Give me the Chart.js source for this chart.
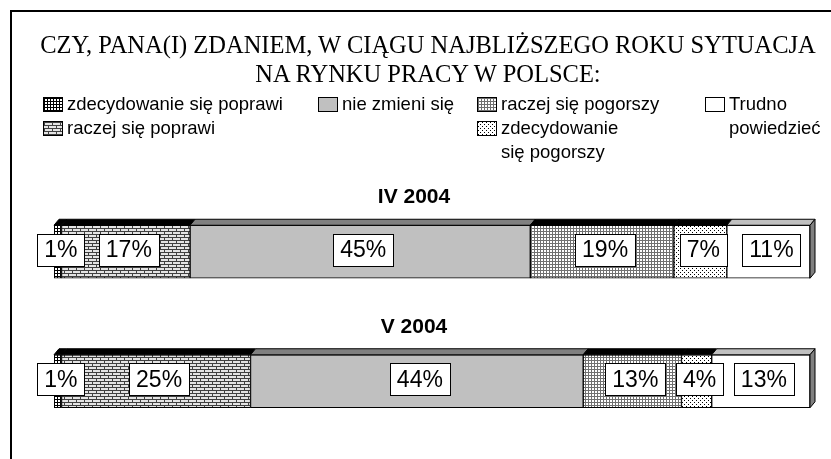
<!DOCTYPE html>
<html lang="pl">

<head>
    <meta charset="UTF-8" />
    <title>Sytuacja na rynku pracy</title>
    <script src="https://cdn.jsdelivr.net/npm/chart.js"></script>
    <style>
        body { margin: 0; background: #fff; }
        #wrap { position: relative; width: 831px; height: 459px; overflow: hidden; }
        #frame { position: absolute; left: 10px; top: 10px; width: 900px; height: 500px;
                 border-top: 2px solid #000; border-left: 2px solid #000; }
        #title { position: absolute; left: 0; width: 856px; top: 30px; text-align: center;
                 font-family: "Liberation Serif", serif; font-size: 24.5px; line-height: 29px; color: #000; }
        .item { position: absolute; font-family: "Liberation Sans", Arial, sans-serif;
                font-size: 18.5px; line-height: 24px; color: #000; }
        .sw { position: absolute; width: 18px; height: 13px; border: 1px solid #000; }
    </style>
</head>

<body>
    <div id="wrap">
        <canvas id="chart" width="831" height="459"></canvas>
        <div id="frame"></div>
        <div id="title">CZY, PANA(I) ZDANIEM, W CIĄGU NAJBLIŻSZEGO ROKU SYTUACJA<br>NA RYNKU PRACY W POLSCE:</div>
        <div id="legend"></div>
    </div>

    <script>
        // data
        var periods = ['IV 2004', 'V 2004'];
        var answers = ['zdecydowanie się poprawi', 'raczej się poprawi', 'nie zmieni się',
            'raczej się pogorszy', 'zdecydowanie się pogorszy', 'Trudno powiedzieć'];
        var zdecPoprawi = [1, 1];
        var raczejPoprawi = [17, 25];
        var nieZmieni = [45, 44];
        var raczejPogorszy = [19, 13];
        var zdecPogorszy = [7, 4];
        var trudno = [11, 13];
        var series = [zdecPoprawi, raczejPoprawi, nieZmieni, raczejPogorszy, zdecPogorszy, trudno];

        // legend layout: swatch left, row, html text
        var legendPos = [
            [43, 0, 'zdecydowanie się poprawi'],
            [43, 1, 'raczej się poprawi'],
            [318, 0, 'nie zmieni się'],
            [477, 0, 'raczej się pogorszy'],
            [477, 1, 'zdecydowanie<br>się pogorszy'],
            [705, 0, 'Trudno<br>powiedzieć']
        ];

        function tile(w, h, draw) {
            var c = document.createElement('canvas');
            c.width = w; c.height = h;
            var g = c.getContext('2d');
            g.fillStyle = '#fff';
            g.fillRect(0, 0, w, h);
            draw(g);
            return c;
        }

        var tiles = [
            tile(3, 3, function (g) {
                g.fillStyle = '#000';
                g.fillRect(0, 0, 3, 1);
                g.fillRect(0, 0, 1, 3);
            }),
            tile(8, 6, function (g) {
                g.fillStyle = '#e4e4e4';
                g.fillRect(0, 0, 8, 6);
                g.fillStyle = '#404040';
                g.fillRect(0, 0, 8, 1);
                g.fillRect(0, 3, 8, 1);
                g.fillRect(0, 1, 1, 2);
                g.fillRect(4, 4, 1, 2);
            }),
            tile(1, 1, function (g) {
                g.fillStyle = '#c0c0c0';
                g.fillRect(0, 0, 1, 1);
            }),
            tile(3, 3, function (g) {
                g.fillStyle = '#707070';
                g.fillRect(0, 0, 3, 1);
                g.fillRect(0, 0, 1, 3);
            }),
            tile(4, 4, function (g) {
                g.fillStyle = '#000';
                g.fillRect(0, 0, 1, 1);
                g.fillRect(2, 2, 1, 1);
            }),
            tile(1, 1, function (g) {})
        ];
        var topColors = ['#000', '#000', '#808080', '#000', '#000', '#c0c0c0'];

        // legend
        var legend = document.getElementById('legend');
        legendPos.forEach(function (p, i) {
            var sw = document.createElement('div');
            sw.className = 'sw';
            sw.style.left = p[0] + 'px';
            sw.style.top = (97 + p[1] * 24) + 'px';
            sw.style.backgroundImage = 'url(' + tiles[i].toDataURL() + ')';
            legend.appendChild(sw);
            var t = document.createElement('div');
            t.className = 'item';
            t.style.left = (p[0] + 24) + 'px';
            t.style.top = (92 + p[1] * 24) + 'px';
            t.innerHTML = p[2];
            legend.appendChild(t);
        });

        var ctx = document.getElementById('chart').getContext('2d');
        var patterns = tiles.map(function (c) { return ctx.createPattern(c, 'repeat'); });

        var DX = 5, DY = 6;
        var bar3d = {
            id: 'bar3d',
            afterDatasetsDraw: function (chart) {
                var g = chart.ctx;
                var n = chart.data.datasets.length;
                g.save();
                g.lineWidth = 1;
                g.strokeStyle = '#000';
                // top faces and right end
                for (var d = 0; d < n; d++) {
                    chart.getDatasetMeta(d).data.forEach(function (el) {
                        var x0 = el.base, x1 = el.x, t = el.y - el.height / 2, b = el.y + el.height / 2;
                        g.beginPath();
                        g.moveTo(x0, t);
                        g.lineTo(x0 + DX, t - DY);
                        g.lineTo(x1 + DX, t - DY);
                        g.lineTo(x1, t);
                        g.closePath();
                        g.fillStyle = topColors[d];
                        g.fill();
                        g.stroke();
                        if (d === n - 1) {
                            g.beginPath();
                            g.moveTo(x1, t);
                            g.lineTo(x1 + DX, t - DY);
                            g.lineTo(x1 + DX, b - DY);
                            g.lineTo(x1, b);
                            g.closePath();
                            g.fillStyle = '#808080';
                            g.fill();
                            g.stroke();
                        }
                    });
                }
                // value labels
                g.font = '23px "Liberation Sans", Arial, sans-serif';
                g.textAlign = 'center';
                g.textBaseline = 'middle';
                for (var d = 0; d < n; d++) {
                    var ds = chart.data.datasets[d];
                    chart.getDatasetMeta(d).data.forEach(function (el, i) {
                        var txt = ds.data[i] + '%';
                        var cx = (el.base + el.x) / 2 + 3, cy = el.y - 2;
                        var w = g.measureText(txt).width + 14, h = 32;
                        var bx = Math.round(cx - w / 2) + 0.5, by = Math.round(cy - h / 2) + 0.5;
                        g.fillStyle = '#fff';
                        g.fillRect(bx, by, Math.round(w), h);
                        g.strokeRect(bx, by, Math.round(w), h);
                        g.fillStyle = '#000';
                        g.fillText(txt, cx, cy + 1);
                    });
                }
                // period labels above each bar
                g.font = 'bold 21px "Liberation Sans", Arial, sans-serif';
                g.textBaseline = 'alphabetic';
                chart.getDatasetMeta(0).data.forEach(function (el, i) {
                    g.fillText(chart.data.labels[i], 414, el.y - el.height / 2 - 22);
                });
                g.restore();
            }
        };

        new Chart(ctx, {
            type: 'bar',
            data: {
                labels: periods,
                datasets: series.map(function (s, i) {
                    return {
                        label: answers[i],
                        data: s,
                        backgroundColor: patterns[i],
                        borderColor: '#000',
                        borderWidth: 1,
                        borderSkipped: false,
                        barThickness: 53
                    };
                })
            },
            options: {
                responsive: false,
                animation: false,
                indexAxis: 'y',
                layout: { padding: { left: 54, right: 21, top: 187, bottom: 13 } },
                scales: {
                    x: { stacked: true, min: 0, max: 100, display: false },
                    y: { stacked: true, display: false }
                },
                plugins: {
                    legend: { display: false },
                    tooltip: { enabled: false }
                }
            },
            plugins: [bar3d]
        });
    </script>
</body>

</html>
